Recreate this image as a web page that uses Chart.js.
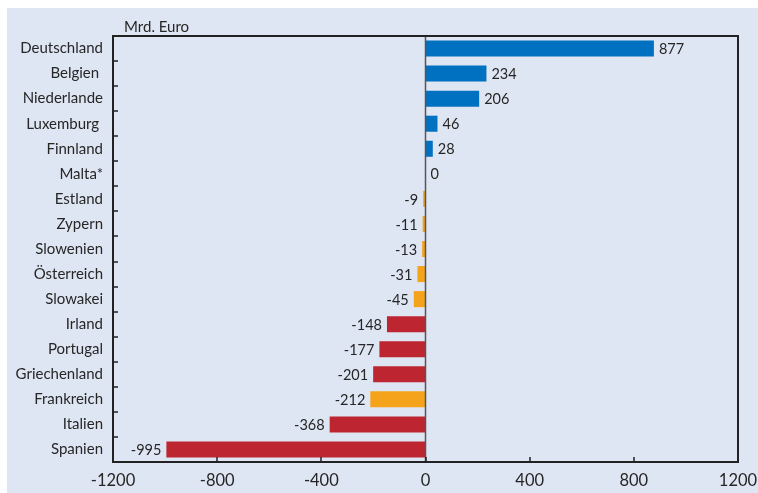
<!DOCTYPE html>
<html>
<head>
<meta charset="utf-8">
<script src="https://cdn.jsdelivr.net/npm/chart.js@4"></script>
<style>
  html, body { margin: 0; padding: 0; background: #fff; }
  #frame { position: absolute; left: 7px; top: 8px; width: 751px; height: 485px; background: #dfe6f3; }
</style>
</head>
<body>
<div id="frame"><canvas id="grafico" width="751" height="485"></canvas></div>
<script>
const laender = ['Deutschland', 'Belgien ', 'Niederlande', 'Luxemburg ', 'Finnland', 'Malta*', 'Estland', 'Zypern',
  'Slowenien', 'Österreich', 'Slowakei', 'Irland', 'Portugal', 'Griechenland', 'Frankreich', 'Italien', 'Spanien'];
const salden = [877, 234, 206, 46, 28, 0, -9, -11, -13, -31, -45, -148, -177, -201, -212, -368, -995];
// gruppe: 0 = blau, 1 = orange, 2 = rot
const gruppen = [0, 0, 0, 0, 0, 0, 1, 1, 1, 1, 1, 2, 2, 2, 1, 2, 2];
const xTicks = [-1200, -800, -400, 0, 400, 800, 1200];
const einheit = 'Mrd. Euro';

const farben = ['#0070c0', '#f6a31c', '#bd2630'];
const textFarbe = '#262626';

// Rahmen, Nulllinie, Ticks nach innen, Werte an den Balken
const extras = {
  id: 'extras',
  afterDatasetsDraw(chart) {
    const ctx = chart.ctx;
    const a = chart.chartArea;
    const x = chart.scales.x, y = chart.scales.y;
    ctx.save();

    // Werte
    ctx.font = '14.5px Lato';
    ctx.fillStyle = textFarbe;
    ctx.textBaseline = 'middle';
    const meta = chart.getDatasetMeta(0);
    meta.data.forEach((bar, i) => {
      const v = salden[i];
      if (v < 0) {
        ctx.textAlign = 'right';
        ctx.fillText(String(v), bar.x - 5, bar.y + 1);
      } else {
        ctx.textAlign = 'left';
        ctx.fillText(String(v), bar.x + 5, bar.y + 1);
      }
    });

    // Nulllinie
    const x0 = Math.round(x.getPixelForValue(0)) - 0.5;
    ctx.strokeStyle = '#555';
    ctx.lineWidth = 1.5;
    ctx.beginPath();
    ctx.moveTo(x0, a.top);
    ctx.lineTo(x0, a.bottom);
    ctx.stroke();

    // Rahmen
    ctx.strokeStyle = '#222';
    ctx.lineWidth = 2;
    ctx.strokeRect(a.left, a.top, a.right - a.left, a.bottom - a.top);

    // Ticks links zwischen den Kategorien
    ctx.lineWidth = 1.5;
    ctx.beginPath();
    for (let i = 1; i < laender.length; i++) {
      const py = Math.round((y.getPixelForValue(i - 1) + y.getPixelForValue(i)) / 2);
      ctx.moveTo(a.left, py);
      ctx.lineTo(a.left + 5, py);
    }
    // Ticks unten
    xTicks.slice(1, -1).forEach(t => {
      const px = Math.round(x.getPixelForValue(t));
      ctx.moveTo(px, a.bottom);
      ctx.lineTo(px, a.bottom - 5);
    });
    ctx.stroke();

    // Einheit
    ctx.font = '15px Lato';
    ctx.fillStyle = textFarbe;
    ctx.textAlign = 'left';
    ctx.textBaseline = 'bottom';
    ctx.fillText(einheit, a.left + 11, a.top - 1);
    ctx.restore();
  }
};

function keinPadding(s) {
  s.paddingLeft = 0; s.paddingRight = 0; s.paddingTop = 0; s.paddingBottom = 0;
}

new Chart(document.getElementById('grafico'), {
  type: 'bar',
  data: {
    labels: laender,
    datasets: [{
      data: salden,
      backgroundColor: gruppen.map(g => farben[g]),
      barPercentage: 0.64,
      categoryPercentage: 1
    }]
  },
  options: {
    indexAxis: 'y',
    responsive: false,
    animation: false,
    layout: { padding: { top: 28, right: 20, left: 0, bottom: 0 } },
    plugins: { legend: { display: false }, tooltip: { enabled: false } },
    scales: {
      x: {
        min: -1200,
        max: 1200,
        afterBuildTicks: s => { s.ticks = xTicks.map(v => ({ value: v })); },
        grid: { display: false, drawTicks: false },
        border: { display: false },
        ticks: {
          color: textFarbe, font: { family: 'Lato', size: 16.5 }, padding: 9, maxRotation: 0,
          autoSkip: false, callback: v => String(v)
        },
        afterFit: s => { s.height = 31; keinPadding(s); }
      },
      y: {
        grid: { display: false, drawTicks: false },
        border: { display: false },
        ticks: { color: textFarbe, font: { family: 'Lato', size: 15 }, padding: 10, autoSkip: false },
        afterFit: s => { s.width = 106; keinPadding(s); }
      }
    }
  },
  plugins: [extras]
});
</script>
</body>
</html>
